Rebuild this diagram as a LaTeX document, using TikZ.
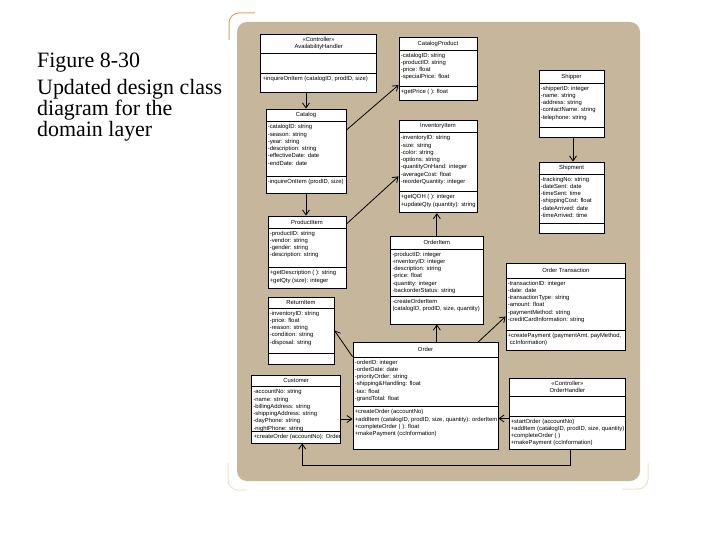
\documentclass[tikz,border=0pt]{standalone}
\usepackage{fontspec}
\setmainfont{Liberation Serif}
\setsansfont{Liberation Sans}
\usetikzlibrary{fit,arrows.meta}
\definecolor{panel}{RGB}{198,183,156}
\definecolor{bracket}{RGB}{222,165,100}
\definecolor{bracketfaint}{RGB}{240,226,204}
\tikzset{
 classframe/.style={draw=black, fill=white, line width=0.9bp, inner sep=0pt},
 cname/.style={font=\sffamily\fontsize{5.9}{7}\selectfont, align=center, inner sep=0pt},
 ctext/.style={font=\sffamily\fontsize{5.9}{7.3}\selectfont, align=left, anchor=north west, inner xsep=1.6bp, inner ysep=2.6bp},
 arr/.style={draw=black, line width=0.8bp, -{Straight Barb[length=5bp,width=7bp]}},
 titletext/.style={font=\fontsize{22}{22}\selectfont, anchor=base west, inner sep=0pt},
}
\newcommand\umlclass[9]{%
  \node[classframe, fit={(#2,#3)(#4,#7)}] (#1) {};
  \draw[line width=0.7bp] (#2,#5) -- (#4,#5) (#2,#6) -- (#4,#6);
  \node[cname] (#1-n) at ({(#2+#4)/2},{(#3+#5)/2}) {#8};
  \node[ctext] (#1-a) at (#2,#5) {#9};
  \def\umlL{#2}\def\umlY{#6}\def\umlN{#1}}
\newcommand\umlops[1]{\node[ctext] (\umlN-o) at (\umlL,\umlY) {#1};}

\begin{document}
\begin{tikzpicture}[x=1bp,y=-1bp]
\useasboundingbox (0,0) rectangle (720,540);
\fill[white] (0,0) rectangle (720,540);

% frame decorations
\draw[bracket, line width=1bp, rounded corners=10bp] (229,40) -- (229,13) -- (255,13);
\draw[bracketfaint, line width=1bp, rounded corners=10bp] (228,463) -- (228,490) -- (247,490);
\draw[bracketfaint, line width=1bp, rounded corners=10bp] (648,463) -- (648,489) -- (622,489);
\fill[panel, rounded corners=10bp] (237,22) rectangle (640,481);

% title
\node[titletext] (t1) at (37,68) {Figure 8-30};
\node[titletext] (t2) at (37,95) {Updated design class};
\node[titletext] (t3) at (37,116) {diagram for the};
\node[titletext] (t4) at (37,137) {domain layer};

% classes
\umlclass{ah}{260.7}{34}{376.7}{53}{73}{92.7}{«Controller»\\AvailabilityHandler}{}
\umlops{+inquireOnItem (catalogID, prodID, size)}

\umlclass{catprod}{399}{37}{477}{50}{86}{100}{CatalogProduct}{-catalogID: string\\-productID: string\\-price: float\\-specialPrice: float}
\umlops{+getPrice ( ): float}

\umlclass{catalog}{266}{109}{346}{121.7}{176.7}{193}{Catalog}{-catalogID: string\\-season: string\\-year: string\\-description: string\\-effectiveDate: date\\-endDate: date}
\umlops{-inquireOnItem (prodID, size)}

\umlclass{invitem}{399}{120}{477}{132.7}{191.7}{212.7}{InventoryItem}{-inventoryID: string\\-size: string\\-color: string\\-options: string\\-quantityOnHand: integer\\-averageCost: float\\-reorderQuantity: integer}
\umlops{+getQOH ( ): integer\\+updateQty (quantity): string}

\umlclass{shipper}{539}{70}{604}{83}{127}{137}{Shipper}{-shipperID: integer\\-name: string\\-address: string\\-contactName: string\\-telephone: string}

\umlclass{shipment}{539}{162}{604}{174}{223}{233}{Shipment}{-trackingNo: string\\-dateSent: date\\-timeSent: time\\-shippingCost: float\\-dateArrived: date\\-timeArrived: time}

\umlclass{prodItem}{268}{216}{346}{228}{267.7}{288}{ProductItem}{-productID: string\\-vendor: string\\-gender: string\\-description: string}
\umlops{+getDescription ( ): string\\+getQty (size): integer}

\umlclass{retItem}{268}{297}{334}{308}{353}{364}{ReturnItem}{-inventoryID: string\\-price: float\\-reason: string\\-condition: string\\-disposal: string}

\umlclass{orderItem}{390.7}{236}{483}{249}{296}{324}{OrderItem}{-productID: integer\\-inventoryID: integer\\-description: string\\-price: float\\-quantity: integer\\-backorderStatus: string}
\umlops{-createOrderItem\\(catalogID, prodID, size, quantity)}

\umlclass{order}{353}{342.7}{498}{357}{406.7}{449}{Order}{-orderID: integer\\-orderDate: date\\-priorityOrder: string\\-shipping\&Handling: float\\-tax: float\\-grandTotal: float}
\umlops{+createOrder (accountNo)\\+addItem (catalogID, prodID, size, quantity): orderItem\\+completeOrder ( ): float\\+makePayment (ccInformation)}

\umlclass{customer}{251.7}{375}{340.7}{386.7}{431.7}{443}{Customer}{\fontsize{5.9}{6.9}\selectfont -accountNo: string\\-name: string\\-billingAddress: string\\-shippingAddress: string\\-dayPhone: string\\-nightPhone: string}
\umlops{+createOrder (accountNo): Order}

\umlclass{orderTrans}{506}{263}{625.7}{278}{330}{350}{Order Transaction}{-transactionID: integer\\-date: date\\-transactionType: string\\-amount: float\\-paymentMethod: string\\-creditCardInformation: string}
\umlops{+createPayment (paymentAmt, payMethod,\\\hspace{2bp}ccInformation)}

\umlclass{oh}{509}{378}{625.7}{396.7}{416}{449}{«Controller»\\OrderHandler}{}
\umlops{+startOrder (accountNo)\\+addItem (catalogID, prodID, size, quantity)\\+completeOrder ( )\\+makePayment (ccInformation)}

% connectors
\draw[arr] (ah.south -| catalog.north) -- (catalog.north);
\draw[arr] (catalog.south) -- (catalog.south |- prodItem.north);
\draw[arr] ([yshift=21bp]catalog.east) -- ([yshift=-16.5bp]catprod.west);
\draw[arr] ([yshift=28bp]prodItem.east) -- ([yshift=-10bp]invitem.west);
\draw[arr] (orderItem.north) -- (orderItem.north |- invitem.south);
\draw[arr] (order.north -| orderItem.south) -- (orderItem.south);
\draw[arr] ([yshift=-14.5bp]order.north west) -- (retItem.east);
\draw[arr] ([xshift=52.5bp]order.north) -- ([yshift=-10bp]orderTrans.west);
\draw[arr] ([yshift=-10bp]customer.east) -- ([yshift=-10bp]customer.east -| order.west);
\draw[arr] ([yshift=-5bp]oh.west) -- ([yshift=-5bp]oh.west -| order.east);
\draw[arr] ([xshift=1.5bp]shipper.south) -- ([xshift=1.5bp]shipment.north);
\draw[arr] ([xshift=3bp]oh.south) -- ++(0,16) -| ([xshift=6bp]customer.south);
\end{tikzpicture}
\end{document}
